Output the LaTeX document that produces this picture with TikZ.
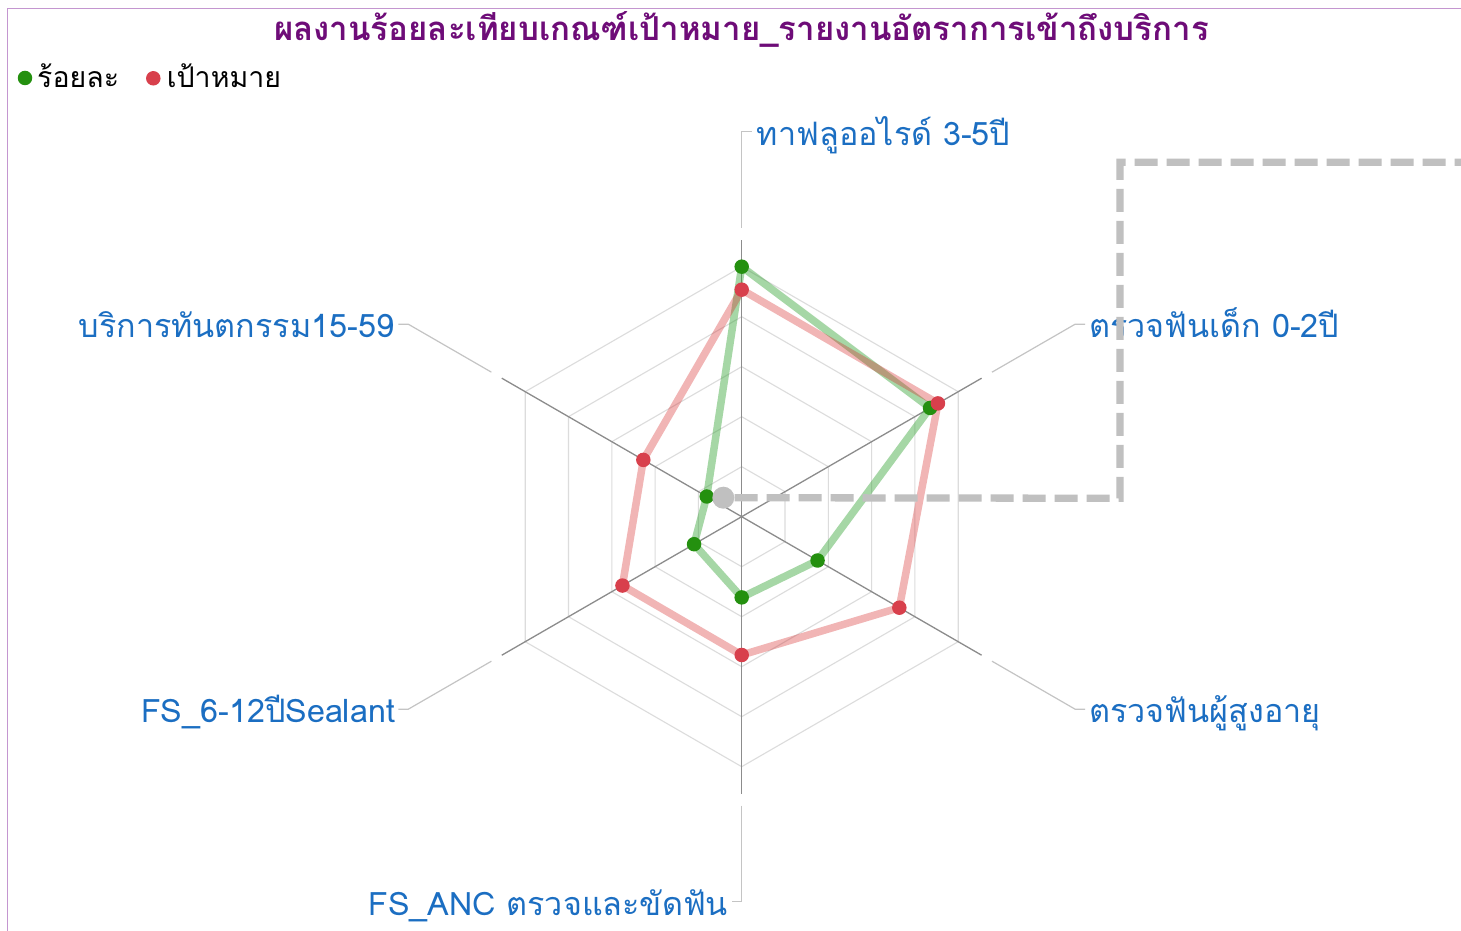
\documentclass[tikz,border=0pt]{standalone}
\usepackage{fontspec}
\usetikzlibrary{calc}
\setmainfont[Script=Thai]{Loma}
\newfontfamily\thai[Script=Thai]{Loma}
\definecolor{ringcol}{HTML}{DCDCDC}
\definecolor{axiscol}{HTML}{8C8C8C}
\definecolor{conncol}{HTML}{C4C4C4}
\definecolor{labelblue}{HTML}{1B6EC2}
\definecolor{titlepurple}{HTML}{6E0C78}
\definecolor{bordercol}{HTML}{C496D0}
\definecolor{gline}{HTML}{2CA02C}
\definecolor{rline}{HTML}{D62728}
\definecolor{gdotcol}{HTML}{24900F}
\definecolor{rdotcol}{HTML}{D8404C}
\definecolor{hovergray}{HTML}{C0C0C0}
\tikzset{
  ringline/.style={draw=ringcol, line width=1.1},
  axisline/.style={draw=axiscol, line width=1.3},
  connline/.style={draw=conncol, line width=1.2},
  lbl/.style={text=labelblue, inner sep=0, font=\thai\fontsize{32.3}{36}\selectfont},
  gseries/.style={draw=gline, draw opacity=0.42, line width=7.5, line join=round},
  rseries/.style={draw=rline, draw opacity=0.34, line width=7.5, line join=round},
  gdot/.style={circle, fill=gdotcol, inner sep=0, minimum size=14.5},
  rdot/.style={circle, fill=rdotcol, inner sep=0, minimum size=14.5},
  legtext/.style={inner sep=0, text=black, font=\thai\fontsize{28.5}{32}\selectfont},
}
\begin{document}
\begin{tikzpicture}[x=1pt,y=1pt]
\useasboundingbox (0,0) rectangle (1461,931);
\clip (0,0) rectangle (1461,931);
\fill[white] (0,0) rectangle (1461,931);
% frame
\draw[bordercol, line width=1.5] (7.5,-10) -- (7.5,922.7) -- (1475,922.7);
% title
\node[anchor=base, inner sep=0, text=titlepurple, font=\thai\bfseries\fontsize{33}{36}\selectfont] (title) at (741.5,890.7) {ผลงานร้อยละเทียบเกณฑ์เป้าหมาย\_รายงานอัตราการเข้าถึงบริการ};
% legend
\node[gdot] (lgdot) at (25,853) {};
\node[legtext, anchor=base west] (lgtext) at (37,843.7) {ร้อยละ};
\node[rdot] (lrdot) at (153.3,852.7) {};
\node[legtext, anchor=base west] (lrtext) at (166.7,843.7) {เป้าหมาย};

\begin{scope}[shift={(741.7,414.3)}]
  \coordinate (O) at (0,0);
  % rings
  \foreach \r in {50,100,150,200,250}
    \draw[ringline] (90:\r) -- (30:\r) -- (-30:\r) -- (-90:\r) -- (-150:\r) -- (150:\r) -- cycle;
  % axes
  \foreach \a in {90,30,-30,-90,-150,150}
    \draw[axisline] (O) -- (\a:277);
  % label connectors
  \coordinate (s1) at (90:289);   \coordinate (k1) at (90:385);   \coordinate (e1) at ($(k1)+(10,0)$);
  \coordinate (s2) at (30:289);   \coordinate (k2) at (30:385);   \coordinate (e2) at ($(k2)+(10,0)$);
  \coordinate (s3) at (-30:289);  \coordinate (k3) at (-30:385);  \coordinate (e3) at ($(k3)+(10,0)$);
  \coordinate (s4) at (-90:289);  \coordinate (k4) at (-90:385);  \coordinate (e4) at ($(k4)+(-10,0)$);
  \coordinate (s5) at (-150:289); \coordinate (k5) at (-150:385); \coordinate (e5) at ($(k5)+(-10,0)$);
  \coordinate (s6) at (150:289);  \coordinate (k6) at (150:385);  \coordinate (e6) at ($(k6)+(-10,0)$);
  \foreach \i in {1,...,6}
    \draw[connline] (s\i) -- (k\i) -- (e\i);
  % labels
  \node[lbl, anchor=base west] (L1) at ($(e1)+(5,-13.4)$) {ทาฟลูออไรด์ 3-5ปี};
  \node[lbl, anchor=base west] (L2) at ($(e2)+(4,-13.4)$) {ตรวจฟันเด็ก 0-2ปี};
  \node[lbl, anchor=base west] (L3) at ($(e3)+(4,-13.4)$) {ตรวจฟันผู้สูงอายุ};
  \node[lbl, anchor=base east] (L4) at ($(e4)+(-3.5,-13.4)$) {FS\_ANC ตรวจและขัดฟัน};
  \node[lbl, anchor=base east] (L5) at ($(e5)+(-3,-13.4)$) {FS\_6-12ปีSealant};
  \node[lbl, anchor=base east] (L6) at ($(e6)+(-4,-13.4)$) {บริการทันตกรรม15-59};
  % data coordinates
  \coordinate (pg1) at (90:250);   \coordinate (pr1) at (90:227);
  \coordinate (pg2) at (30:217.5); \coordinate (pr2) at (30:226.6);
  \coordinate (pg3) at (-30:87.6); \coordinate (pr3) at (-30:182);
  \coordinate (pg4) at (-90:80.7); \coordinate (pr4) at (-90:138.3);
  \coordinate (pg5) at (-150:55);  \coordinate (pr5) at (-150:137.7);
  \coordinate (pg6) at (150:40.4); \coordinate (pr6) at (150:113.6);
  \draw[gseries] (pg1) -- (pg2) -- (pg3) -- (pg4) -- (pg5) -- (pg6) -- cycle;
  \draw[rseries] (pr1) -- (pr2) -- (pr3) -- (pr4) -- (pr5) -- (pr6) -- cycle;
  \foreach \i in {1,...,6} \node[gdot] (g\i) at (pg\i) {};
  \foreach \i in {1,...,6} \node[rdot] (r\i) at (pr\i) {};
\end{scope}
% hover marker and dashed tooltip frame
\node[circle, fill=hovergray, inner sep=0, minimum size=22] (hov) at (723.3,433.3) {};
\coordinate (t1) at (1120,432.7);
\coordinate (t2) at (1120,768.7);
\coordinate (t3) at (1475,768.7);
\draw[hovergray, line width=7.3, dash pattern=on 23 off 9, line join=miter] (hov.east) -- (t1) -- (t2) -- (t3);
\end{tikzpicture}
\end{document}
